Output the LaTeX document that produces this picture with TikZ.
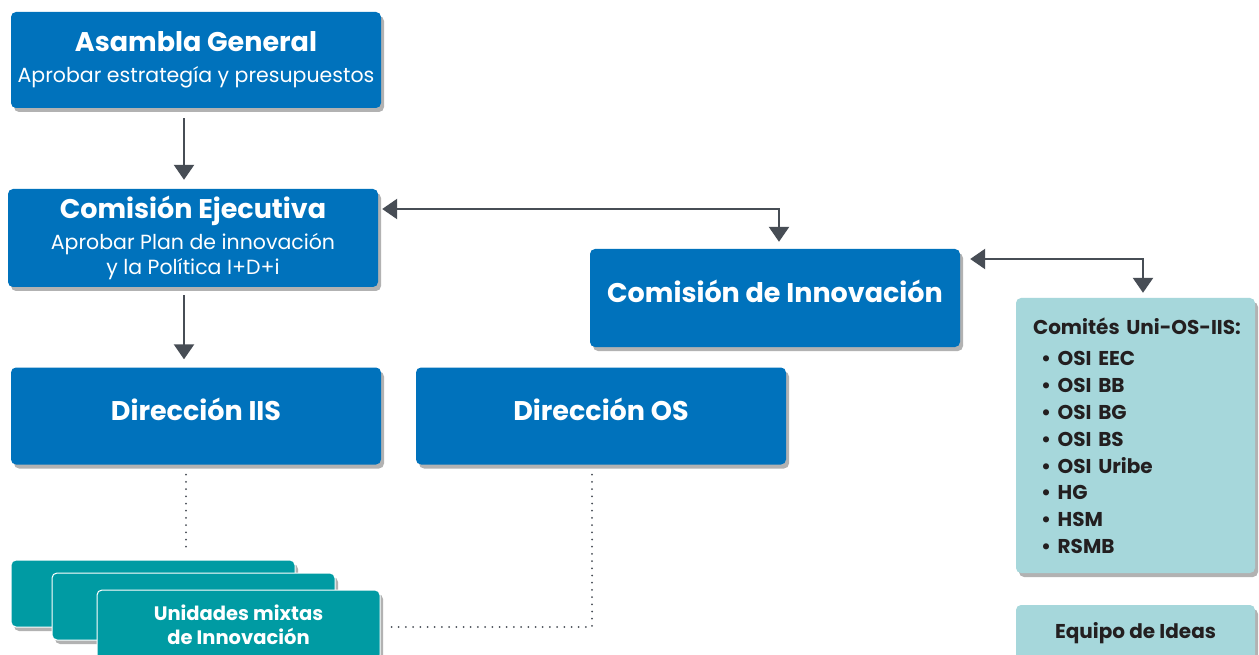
\documentclass[tikz,border=0pt]{standalone}
\usepackage{fontspec}
\setmainfont{Poppins}
\usetikzlibrary{positioning,arrows.meta,shadows}

\definecolor{orgblue}{HTML}{0072BC}
\definecolor{orgteal}{HTML}{009BA3}
\definecolor{orglight}{HTML}{A6D7DB}
\definecolor{orggray}{HTML}{474D55}
\definecolor{orgtext}{HTML}{231F20}

\newcommand{\orgtitle}[1]{{\fontsize{27}{29}\selectfont\bfseries #1}}

\begin{document}
\begin{tikzpicture}[x=1pt, y=-1pt, >={Triangle[width=20pt,length=15pt]},
        shade/.style={drop shadow={shadow xshift=3pt, shadow yshift=-4pt, opacity=0.3, fill=black}},
        organ/.style={shade, fill=orgblue, rounded corners=5pt, text=white, align=center, minimum width=370pt, inner sep=0pt, font=\fontsize{20.5}{25}\selectfont},
        solo/.style={organ, text height=19pt, text depth=10pt},
        unit/.style={shade, fill=orgteal, draw=white, line width=1pt, rounded corners=5pt, text=white, align=center, minimum width=283pt, minimum height=67pt, inner sep=0pt, font=\fontsize{19.5}{24}\selectfont\bfseries},
        comite/.style={shade, fill=orglight, rounded corners=5pt, text=orgtext, minimum width=239pt, inner sep=0pt, font=\fontsize{20}{26.8}\selectfont\bfseries},
        link/.style={->, draw=orggray, line width=2.5pt},
        tie/.style={draw=orggray, line width=2pt, line cap=round, dash pattern=on 0pt off 7.2pt}]
        \fill[white] (0,0) rectangle (1259,655);
        \useasboundingbox (0,0) rectangle (1259,655);

        \node[organ, minimum height=96pt] (asamblea) at (196,60) {\orgtitle{Asambla General}\\[6pt] Aprobar estrategía y presupuestos};
        \node[organ, minimum height=98pt] (ejecutiva) at (193,238) {\orgtitle{Comisión Ejecutiva}\\[6pt] Aprobar Plan de innovación\\ y la Política I+D+i};
        \node[solo, minimum height=98pt] (innovacion) at (775,298) {\orgtitle{Comisión de Innovación}};
        \node[solo, minimum height=97pt] (dirIIS) at (196,416) {\orgtitle{Dirección IIS}};
        \node[solo, minimum height=97pt] (dirOS) at (601,416) {\orgtitle{Dirección OS}};

        % unidades mixtas, tres fichas apiladas
        \node[unit, minimum width=284pt] (unidad1) at (153,593.5) {};
        \node[unit] (unidad2) at (193.5,606.5) {};
        \node[unit, minimum height=70pt] (unidad3) at (238.5,625) {Unidades mixtas\\ de Innovación};

        \node[comite, minimum height=275pt, text width=225pt, inner xsep=7pt, align=left] (comites) at (1135.5,435.5)
            {\hspace*{10pt}Comités Uni-OS-IIS:\\[5pt]
            \hspace*{18pt}• OSI EEC\\ \hspace*{18pt}• OSI BB\\ \hspace*{18pt}• OSI BG\\ \hspace*{18pt}• OSI BS\\
            \hspace*{18pt}• OSI Uribe\\ \hspace*{18pt}• HG\\ \hspace*{18pt}• HSM\\ \hspace*{18pt}• RSMB};
        \node[comite, minimum height=64pt, align=center] (ideas) at (1135.5,637) {\raisebox{13pt}{Equipo de Ideas}};

        \draw[link, shorten <=10pt, shorten >=9pt] ([xshift=-12pt]asamblea.south) -- ([xshift=-12pt]asamblea.south |- ejecutiva.north);
        \draw[link, shorten <=8pt, shorten >=8pt] ([xshift=-9pt]ejecutiva.south) -- ([xshift=-9pt]ejecutiva.south |- dirIIS.north);
        \draw[link, <->, shorten <=4pt, shorten >=7pt] ([yshift=29pt]ejecutiva.east) -| ([xshift=4pt]innovacion.north);
        \draw[link, <->, shorten <=10pt, shorten >=5pt] ([yshift=39pt]innovacion.east) -| ([xshift=7.5pt]comites.north);
        \draw[tie, shorten <=10pt, shorten >=10pt] ([xshift=-10pt]dirIIS.south) -- ([xshift=-10pt]dirIIS.south |- unidad1.north);
        \draw[tie, shorten <=10pt, shorten >=5pt] ([xshift=-9pt]dirOS.south) |- ([yshift=-2pt]unidad3.east);
\end{tikzpicture}
\end{document}
